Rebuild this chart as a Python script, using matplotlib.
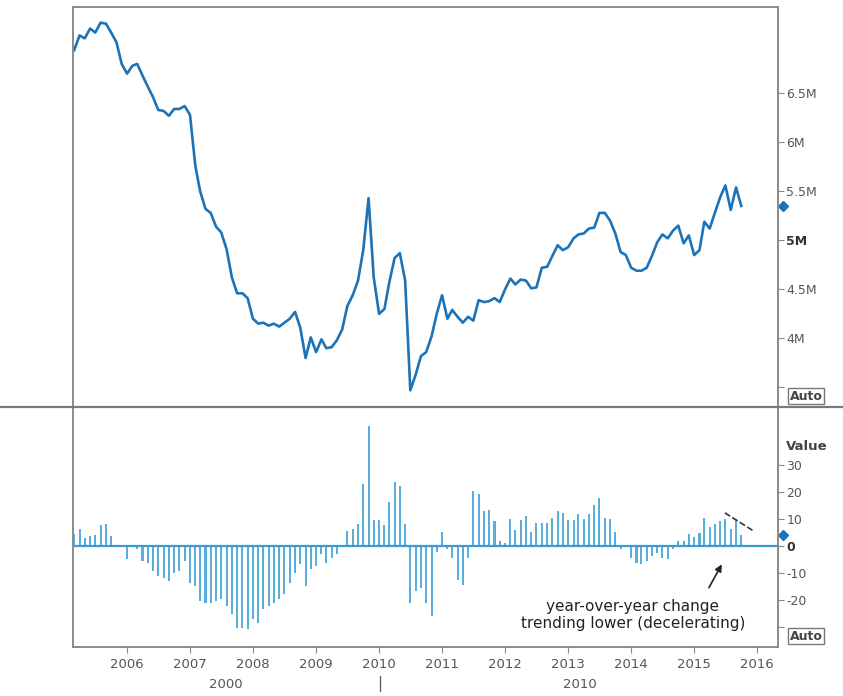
import numpy as np
import pandas as pd
import matplotlib
matplotlib.use("Agg")
import matplotlib.pyplot as plt
from matplotlib.lines import Line2D

# monthly data, Mar 2005 .. Oct 2015
months = pd.date_range("2005-03-01", periods=128, freq="MS")

# home sales level, millions (top panel)
sales = [6.94, 7.09, 7.06, 7.16, 7.12, 7.22, 7.21, 7.12, 7.02, 6.80,
         6.70, 6.78, 6.80, 6.68, 6.57, 6.46, 6.33, 6.32, 6.27, 6.34,
         6.34, 6.37, 6.28, 5.76, 5.50, 5.32, 5.28, 5.14, 5.08, 4.91,
         4.62, 4.46, 4.46, 4.41, 4.20, 4.15, 4.16, 4.13, 4.15, 4.12,
         4.16, 4.20, 4.27, 4.11, 3.80, 4.01, 3.86, 3.99, 3.90, 3.91,
         3.98, 4.09, 4.33, 4.44, 4.59, 4.90, 5.43, 4.62, 4.25, 4.30,
         4.57, 4.82, 4.87, 4.59, 3.47, 3.63, 3.82, 3.86, 4.02, 4.25,
         4.44, 4.20, 4.29, 4.22, 4.16, 4.22, 4.18, 4.39, 4.37, 4.38,
         4.41, 4.37, 4.50, 4.61, 4.55, 4.60, 4.59, 4.51, 4.52, 4.72,
         4.73, 4.84, 4.95, 4.90, 4.93, 5.02, 5.06, 5.07, 5.12, 5.13,
         5.28, 5.28, 5.20, 5.07, 4.88, 4.85, 4.72, 4.69, 4.69, 4.72,
         4.84, 4.98, 5.06, 5.02, 5.10, 5.15, 4.97, 5.05, 4.85, 4.90,
         5.19, 5.12, 5.28, 5.44, 5.56, 5.31, 5.54, 5.35]

# year-over-year change, % (bottom panel)
yoy = [4.4, 6.3, 3.0, 3.7, 4.1, 7.8, 8.2, 3.7, 0.5, 0.0,
       -4.9, 0.0, -1.2, -5.6, -6.2, -9.3, -11.1, -11.7, -13.0, -9.9,
       -9.3, -5.6, -13.6, -14.8, -20.4, -21.0, -21.0, -20.4, -19.8, -22.2,
       -25.3, -30.2, -30.2, -30.9, -27.2, -28.4, -23.5, -22.2, -21.0, -19.8,
       -17.9, -13.6, -9.9, -6.8, -14.8, -8.6, -7.4, -3.1, -6.2, -4.3,
       -3.1, 0.0, 5.6, 6.2, 8.3, 22.8, 44.4, 9.5, 9.5, 7.8,
       16.4, 23.8, 22.2, 8.3, -21.0, -16.7, -15.7, -21.0, -25.9, -2.2,
       5.3, -1.2, -4.3, -12.6, -14.6, -4.3, 20.4, 19.1, 13.0, 13.5,
       9.4, 1.9, 1.0, 9.9, 6.0, 9.7, 11.1, 5.3, 8.7, 8.7,
       8.6, 10.3, 13.0, 12.3, 9.7, 9.5, 11.7, 9.9, 11.7, 15.2,
       17.7, 10.5, 9.9, 5.3, -1.0, 0.0, -4.3, -6.2, -6.8, -5.6,
       -3.7, -2.5, -4.3, -4.9, -1.2, 1.9, 1.9, 4.3, 3.3, 4.9,
       10.5, 7.0, 8.0, 9.3, 9.9, 6.4, 9.9, 4.1]

top_ticks = [3.5, 4.0, 4.5, 5.0, 5.5, 6.0, 6.5]
top_labels = ["", "4M", "4.5M", "5M", "5.5M", "6M", "6.5M"]
bot_ticks = [-30, -20, -10, 0, 10, 20, 30]
bot_labels = ["", "-20", "-10", "0", "10", "20", "30"]
year_ticks = pd.date_range("2006-01-01", "2016-01-01", freq="YS")

LINE = "#1c73b8"
BAR = "#5aaedb"
FRAME = "#8a8a8a"
TXT = "#555555"

W, H = 843, 696
fig = plt.figure(figsize=(W / 100, H / 100), dpi=100)
plt.rcParams["font.family"] = ["DejaVu Sans"]


def fx(x):
    return x / W


def fy(y):
    return 1 - y / H


ax1 = fig.add_axes([fx(73), fy(407), fx(778) - fx(73), fy(7) - fy(407)])
ax2 = fig.add_axes([fx(73), fy(647), fx(778) - fx(73), fy(407) - fy(647)], sharex=ax1)

xmin = pd.Timestamp("2005-02-22")
xmax = pd.Timestamp("2016-05-01")

# top panel
ax1.plot(months, sales, color=LINE, lw=1.9)
ax1.set_xlim(xmin, xmax)
ax1.set_ylim(3.30, 7.38)
ax1.yaxis.tick_right()
ax1.set_yticks(top_ticks, top_labels)
ax1.tick_params(axis="y", length=4, color=FRAME, labelcolor=TXT, labelsize=9, pad=2)
ax1.tick_params(axis="x", bottom=False, labelbottom=False)
ax1.spines["bottom"].set_visible(False)
for s in ["left", "top", "right"]:
    ax1.spines[s].set_color(FRAME)
    ax1.spines[s].set_linewidth(1.4)
ax1.plot([1.007], [sales[-1]], marker="D", ms=5, color=LINE,
         transform=ax1.get_yaxis_transform(), clip_on=False)

# bottom panel
ax2.bar(months, yoy, width=12, color=BAR, edgecolor="none", align="center")
ax2.axhline(0, color="#3d9ad3", lw=1.6)
ax2.set_ylim(-37.4, 51.5)
ax2.yaxis.tick_right()
ax2.set_yticks(bot_ticks, bot_labels)
ax2.tick_params(axis="y", length=4, color=FRAME, labelcolor=TXT, labelsize=9, pad=2)
ax2.set_xticks(year_ticks, [str(d.year) for d in year_ticks])
ax2.tick_params(axis="x", length=4, color=FRAME, labelcolor=TXT, labelsize=9.5, pad=4)
ax2.spines["top"].set_visible(False)
for s in ["left", "bottom", "right"]:
    ax2.spines[s].set_color(FRAME)
    ax2.spines[s].set_linewidth(1.4)
ax2.plot([1.007], [yoy[-1]], marker="D", ms=5, color=LINE,
         transform=ax2.get_yaxis_transform(), clip_on=False)

for lab in ax1.get_yticklabels():
    if lab.get_text() == "5M":
        lab.set_fontweight("bold")
        lab.set_color("#333333")
for lab in ax2.get_yticklabels():
    if lab.get_text() == "0":
        lab.set_fontweight("bold")
        lab.set_color("#333333")

# trend line and annotation
ax2.plot([pd.Timestamp("2015-06-28"), pd.Timestamp("2015-12-08")], [12.3, 5.7],
         ls="--", color="#333333", lw=1.2)
ax2.annotate("", xy=(pd.Timestamp("2015-06-18"), -5.9),
             xytext=(pd.Timestamp("2015-03-20"), -16.3),
             arrowprops=dict(arrowstyle="-|>", color="#222222", lw=1.2, mutation_scale=10))
ax2.text(pd.Timestamp("2014-01-10"), -25.5,
         "year-over-year change\ntrending lower (decelerating)",
         ha="center", va="center", fontsize=11, color="#222222", linespacing=1.15)

# full-width divider between panels
fig.add_artist(Line2D([0, 1], [fy(407), fy(407)], transform=fig.transFigure,
                      color="#7a7a7a", lw=1.6))

# right-side labels
box = dict(boxstyle="square,pad=0.12", fc="white", ec="#777777", lw=1.0)
fig.text(fx(806), fy(396), "Auto", ha="center", va="center", fontsize=9,
         fontweight="bold", color="#444444", bbox=box)
fig.text(fx(806), fy(636), "Auto", ha="center", va="center", fontsize=9,
         fontweight="bold", color="#444444", bbox=box)
fig.text(fx(807), fy(446), "Value", ha="center", va="center", fontsize=9.5,
         fontweight="bold", color="#444444")

# decade labels
fig.text(fx(226), fy(684), "2000", ha="center", va="center", fontsize=9.5, color=TXT)
fig.text(fx(580), fy(684), "2010", ha="center", va="center", fontsize=9.5, color=TXT)
fig.text(fx(380), fy(684), "|", ha="center", va="center", fontsize=11, color=TXT)

fig.savefig("out.png", dpi=100)
